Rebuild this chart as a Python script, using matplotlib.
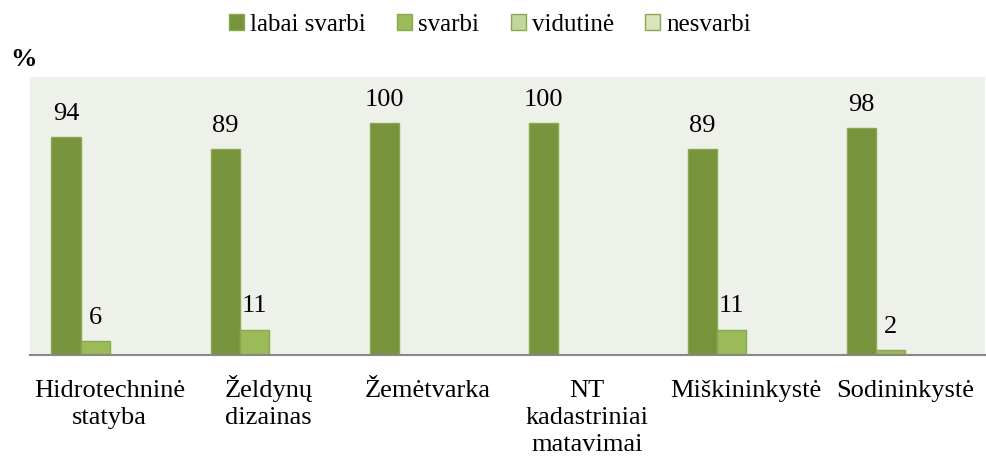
import matplotlib
matplotlib.use("Agg")
import matplotlib.pyplot as plt
import matplotlib.transforms as mtransforms
import numpy as np

categories = ["Hidrotechninė\nstatyba", "Želdynų\ndizainas", "Žemėtvarka",
              "NT\nkadastriniai\nmatavimai", "Miškininkystė", "Sodininkystė"]
series_names = ["labai svarbi", "svarbi", "vidutinė", "nesvarbi"]
labai_svarbi = [94, 89, 100, 100, 89, 98]
svarbi = [6, 11, 0, 0, 11, 2]
vidutine = [0, 0, 0, 0, 0, 0]
nesvarbi = [0, 0, 0, 0, 0, 0]

colors = ["#77933c", "#9bbb59", "#c3d69b", "#d7e4bd"]
edges = ["#8aa84f", "#8aa84f", "#8aa84f", "#8aa84f"]

plt.rcParams['font.family'] = ['Liberation Serif', 'DejaVu Serif']
fig = plt.figure(figsize=(9.86, 4.59), dpi=100)
ax = fig.add_axes([30/986, (459-355)/459, 955/986, (355-77)/459])
ax.set_facecolor("#eef1e9")

x = np.arange(len(categories))
w = 0.1825
data = [labai_svarbi, svarbi, vidutine, nesvarbi]
for i, (vals, name) in enumerate(zip(data, series_names)):
    pos = x + (i - 1.5) * w
    ax.bar(pos, vals, w, color=colors[i], edgecolor=edges[i], linewidth=1, label=name)
    for p, v in zip(pos, vals):
        if v > 0:
            ax.text(p, v + 7.4, f"{v}", ha="center", va="baseline", fontsize=19)

ax.set_xlim(-0.5, len(categories) - 0.5)
ax.set_ylim(0, 120)
ax.set_yticks([])
ax.set_xticks(x)
ax.set_xticklabels([])
ax.tick_params(axis='x', length=0)

# category labels: each line baseline-aligned so accented capitals don't shift lines
base = ax.get_xaxis_transform()
first_pt = 42 * 72 / 100
pitch_pt = 27 * 72 / 100
for xi, cat in zip(x, categories):
    for k, line in enumerate(cat.split("\n")):
        off = mtransforms.ScaledTranslation(0, -(first_pt + k * pitch_pt) / 72, fig.dpi_scale_trans)
        ax.text(xi, 0, line, transform=base + off, ha="center", va="baseline",
                fontsize=19, clip_on=False)

for s in ["top", "right", "left"]:
    ax.spines[s].set_visible(False)
ax.spines["bottom"].set_color("#888888")
ax.spines["bottom"].set_linewidth(1.5)

fig.text(10/986, 1 - 60/459, "%", fontsize=19, fontweight="bold", va="center")
leg = fig.legend(loc="center", bbox_to_anchor=(490/986, 1 - 25/459), ncol=4, frameon=False,
                 fontsize=18, handlelength=0.6, handleheight=0.6, handletextpad=0.25,
                 columnspacing=1.25)
fig.savefig("out.png", dpi=100)
